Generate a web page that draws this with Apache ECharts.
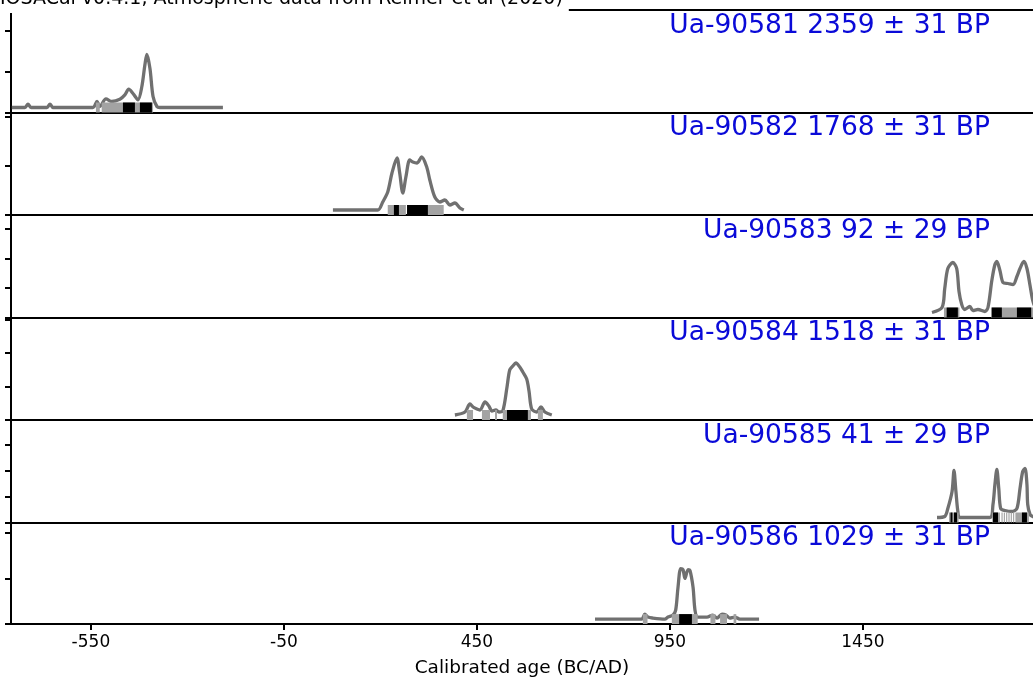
<!DOCTYPE html>
<html>
<head>
<meta charset="utf-8">
<script src="https://cdn.jsdelivr.net/npm/echarts@6/dist/echarts.min.js"></script>
<style>html,body{margin:0;padding:0;background:#fff}#c{width:1033px;height:679px}</style>
</head>
<body>
<div id="c"></div>
<script>
// ---- data ----
const chartTitle = 'IOSACal v0.4.1, Atmospheric data from Reimer et al (2020)';
const xAxisTitle = 'Calibrated age (BC/AD)';
const xTickValues = [-550, -50, 450, 950, 1450];
const sampleLabels = ['Ua-90581 2359 ± 31 BP', 'Ua-90582 1768 ± 31 BP', 'Ua-90583 92 ± 29 BP',
                      'Ua-90584 1518 ± 31 BP', 'Ua-90585 41 ± 29 BP', 'Ua-90586 1029 ± 31 BP'];

const p1Years = [-755,-721,-713,-705,-664,-656,-648,-545,-534,-527,-511,-496,-475,-462,-452,-441,-428,-418,-410,-405,-397,-389,-379,-371,-208];
const p1Dens  = [0,0,3.3,0,0,3.3,0,0,6,1,8.7,6,8.3,12.7,18.3,14,7.7,21,43,53,39,11,1,0,0];
const p1Int95 = [[-537,-527],[-522,-389]];
const p1Int68 = [[-467,-436],[-423,-392]];
const p1Ticks = [-5, 36, 77];

const p2Years = [77,193,206,219,230,243,250,258,266,276,284,295,307,320,328,341,354,367,380,393,406,416];
const p2Dens  = [0,0,8,18,37,52,37,17,33,50,48,47,53,43,30,13,8,10,5,7,2,0];
const p2Int95 = [[219,266],[269,364]];
const p2Int68 = [[235,248],[269,323]];
const p2Ticks = [-5, 44, 93];

const p3Years = [1629,1655,1662,1670,1683,1693,1699,1706,1714,1727,1735,1748,1766,1774,1784,1792,1797,1805,1813,1826,1839,1849,1857,1867,1875,1883,1890,1898,1909,1950];
const p3Dens  = [0,5,24,44,50,44,21,8,3,6,2,3,1,5,32,48,51,42,30,29,28,36,44,51,44,27,12,4,0,0];
const p3Int95 = [[1660,1700],[1782,1905]];
const p3Int68 = [[1667,1696],[1784,1810],[1849,1886]];
const p3Ticks = [-5, 24.5, 54, 83.5];

const p4Years = [393,419,432,440,450,458,471,481,489,499,507,517,528,535,543,551,561,569,579,585,592,605,616,626,644];
const p4Dens  = [0,3,11,8,6,5,13,9,4,5,3,4,28,45,49,52,48,43,36,24,6,3,8,3,0];
const p4Int95 = [[424,440],[463,484],[497,502],[517,590],[608,621]];
const p4Int68 = [[528,582]];
const p4Ticks = [-5, 28.5, 62, 95.5];

const p5Years = [1642,1662,1670,1681,1686,1691,1696,1701,1779,1787,1792,1797,1802,1807,1818,1836,1849,1857,1864,1870,1875,1877,1883,1890,1900,1950];
const p5Dens  = [0,1,9,26,47,26,6,0,0,13,33,48,29,9,7,6,9,29,46,49,33,13,3,1,0,0];
const p5Int95 = [[1673,1698],[1785,1805],[1809,1812],[1815,1818],[1821,1824],[1827,1830],[1833,1836],[1839,1842],[1845,1880]];
const p5Int68 = [[1677,1682],[1686,1694],[1787,1800],[1862,1875]];
const p5Ticks = [-5, 21, 47, 73];

const p6Years = [756,877,885,893,906,937,945,958,965,971,978,984,989,997,1002,1010,1015,1022,1046,1061,1072,1085,1095,1105,1118,1131,1181];
const p6Dens  = [0,0,5,2,1,0,2,4,9,32,51,50,41,50,49,32,9,2,2,4,1,5,4,1,2,0,0];
const p6Int95 = [[880,892],[955,1022],[1055,1068],[1080,1098],[1115,1122]];
const p6Int68 = [[974,1007]];
const p6Ticks = [-5, 41, 87];

// ---- layout ----
const panels = [
  {years:p1Years, dens:p1Dens, i95:p1Int95, i68:p1Int68, ticks:p1Ticks},
  {years:p2Years, dens:p2Dens, i95:p2Int95, i68:p2Int68, ticks:p2Ticks},
  {years:p3Years, dens:p3Dens, i95:p3Int95, i68:p3Int68, ticks:p3Ticks},
  {years:p4Years, dens:p4Dens, i95:p4Int95, i68:p4Int68, ticks:p4Ticks},
  {years:p5Years, dens:p5Dens, i95:p5Int95, i68:p5Int68, ticks:p5Ticks},
  {years:p6Years, dens:p6Dens, i95:p6Int95, i68:p6Int68, ticks:p6Ticks}
];
const TOP = 10, PH = 102.5, LEFT = 11, GRID_W = 1022;
const X_MIN = -757, X_MAX = X_MIN + GRID_W / 0.386;
const Y_MIN = -5, Y_MAX = 97.5, BAR_TOP = 5;
const FONT = '"DejaVu Sans", sans-serif';
const AXIS_LINE = {color: '#000', width: 2};

const grids = [], xAxes = [], yAxes = [], series = [], titles = [];
titles.push({text: chartTitle, left: 0, top: -12, padding: [0, 6, 3, 0], backgroundColor: '#fff', z: 20,
  textStyle: {fontFamily: FONT, fontSize: 19, fontWeight: 'normal', color: '#000', lineHeight: 22}});

function intervalRenderer(color) {
  return function (params, api) {
    const p0 = api.coord([api.value(0), BAR_TOP]);
    const p1 = api.coord([api.value(1), Y_MIN]);
    return {type: 'rect', shape: {x: p0[0], y: p0[1], width: p1[0] - p0[0], height: p1[1] - p0[1]},
            style: {fill: color}};
  };
}

panels.forEach((p, i) => {
  const last = i === panels.length - 1;
  grids.push({left: LEFT, width: GRID_W, top: TOP + i * PH, height: PH, show: false});
  xAxes.push({type: 'value', gridIndex: i, min: X_MIN, max: X_MAX, show: true, position: 'bottom',
    name: last ? xAxisTitle : '', nameLocation: 'middle', nameGap: 35,
    nameTextStyle: {fontFamily: FONT, fontSize: 18.5, color: '#000'},
    axisLine: {show: true, onZero: false, lineStyle: AXIS_LINE},
    axisTick: {show: last, length: 6, lineStyle: AXIS_LINE, customValues: xTickValues},
    axisLabel: {show: last, margin: 10, fontFamily: FONT, fontSize: 17, color: '#000',
                customValues: xTickValues, formatter: v => String(v)},
    splitLine: {show: false}});
  yAxes.push({type: 'value', gridIndex: i, min: Y_MIN, max: Y_MAX,
    axisLine: {show: true, onZero: false, lineStyle: AXIS_LINE},
    axisTick: {show: true, length: 6, lineStyle: AXIS_LINE, customValues: p.ticks},
    axisLabel: {show: false},
    splitLine: {show: false}});
  titles.push({text: sampleLabels[i], right: 43, top: TOP + i * PH + 1, padding: 0,
    textStyle: {fontFamily: FONT, fontSize: 26.5, fontWeight: 'normal', color: '#0a0ad8', lineHeight: 30}});
  series.push({type: 'line', xAxisIndex: i, yAxisIndex: i, data: p.years.map((y, k) => [y, p.dens[k]]),
    showSymbol: false, smooth: 0.3, lineStyle: {color: '#707070', width: 3.3}, z: 2, animation: false});
  series.push({type: 'custom', xAxisIndex: i, yAxisIndex: i, data: p.i95, z: 3,
    renderItem: intervalRenderer('#a3a3a3'), animation: false});
  series.push({type: 'custom', xAxisIndex: i, yAxisIndex: i, data: p.i68, z: 4,
    renderItem: intervalRenderer('#000000'), animation: false});
});
// top frame line of the first panel
xAxes.push({type: 'value', gridIndex: 0, min: X_MIN, max: X_MAX, position: 'top',
  axisLine: {show: true, onZero: false, lineStyle: AXIS_LINE},
  axisTick: {show: false}, axisLabel: {show: false}, splitLine: {show: false}});

const chart = echarts.init(document.getElementById('c'), null, {renderer: 'canvas'});
chart.setOption({animation: false, backgroundColor: '#fff', title: titles,
  grid: grids, xAxis: xAxes, yAxis: yAxes, series: series});
</script>
</body>
</html>
